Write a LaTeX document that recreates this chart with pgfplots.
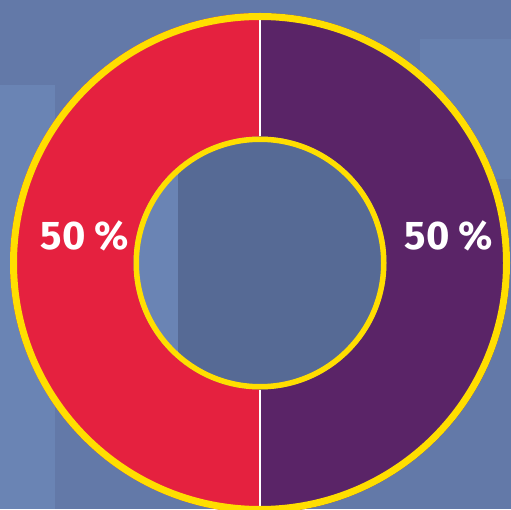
\documentclass[border=0pt]{standalone}
\usepackage{pgfplots}
\pgfplotsset{compat=1.18}
\usepackage{pgfplotstable}
\usepackage{fontspec}
\setmainfont{Fira Sans}

\definecolor{bgblue}{HTML}{6379A8}
\definecolor{bgdark}{HTML}{566A95}
\definecolor{bglight}{HTML}{6A84B4}
\definecolor{donutred}{HTML}{E5213F}
\definecolor{donutpurple}{HTML}{5A2467}
\definecolor{ringyellow}{HTML}{FFDE00}

\newcommand\lblfont{\fontsize{40}{40}\selectfont\bfseries}

% slices, drawn counter-clockwise from 12 o'clock
\pgfplotstableread{
label  value color
A      50    donutred
B      50    donutpurple
}\slices

\begin{document}
\begin{tikzpicture}
\begin{axis}[
    x=1pt, y=1pt,
    xmin=0, xmax=511, ymin=0, ymax=509,
    hide axis,
    clip=true,
]
% blurred photo background (rough)
\fill[bgblue] (axis cs:0,0) rectangle (axis cs:511,509);
\fill[bglight] (axis cs:0,0) rectangle (axis cs:55,424);
\fill[bglight!60!bgblue] (axis cs:420,330) rectangle (axis cs:511,470);
\fill[bgdark] (axis cs:178,100) rectangle (axis cs:395,370);
\fill[bglight] (axis cs:134,100) rectangle (axis cs:178,370);

\def\cx{260}\def\cy{246}
\def\Rout{250}\def\Rin{126.5}
\pgfplotstablegetrowsof{\slices}
\pgfmathtruncatemacro\last{\pgfplotsretval-1}
\def\acc{90}
\pgfplotsforeachungrouped \i in {0,...,\last}{%
    \pgfplotstablegetelem{\i}{value}\of{\slices}\let\val\pgfplotsretval
    \pgfplotstablegetelem{\i}{color}\of{\slices}\let\col\pgfplotsretval
    \pgfmathsetmacro\sA{\acc}
    \pgfmathsetmacro\eA{\acc+3.6*\val}
    \pgfmathsetmacro\mA{(\sA+\eA)/2}
    \pgfmathsetmacro\ox{\cx+\Rout*cos(\sA)}
    \pgfmathsetmacro\oy{\cy+\Rout*sin(\sA)}
    \pgfmathsetmacro\ix{\cx+\Rin*cos(\eA)}
    \pgfmathsetmacro\iy{\cy+\Rin*sin(\eA)}
    \pgfmathsetmacro\lx{\cx+182*cos(\mA)+7}
    \pgfmathsetmacro\ly{\cy+27}
    \edef\temp{%
      \noexpand\fill[\col] (axis cs:\ox,\oy)
        arc[start angle=\sA, end angle=\eA, radius=\Rout pt]
        -- (axis cs:\ix,\iy)
        arc[start angle=\eA, end angle=\sA, radius=\Rin pt] -- cycle;
      \noexpand\node[text=white, font=\noexpand\lblfont]
        at (axis cs:\lx,\ly) {\val\noexpand~\noexpand\%};
    }\temp
    \xdef\acc{\eA}
}
% white separators between slices
\pgfplotsforeachungrouped \a in {90,270}{%
    \pgfmathsetmacro\px{\cx+\Rin*cos(\a)}
    \pgfmathsetmacro\py{\cy+\Rin*sin(\a)}
    \pgfmathsetmacro\qx{\cx+\Rout*cos(\a)}
    \pgfmathsetmacro\qy{\cy+\Rout*sin(\a)}
    \edef\temp{\noexpand\draw[white, line width=1.2pt]
        (axis cs:\px,\py) -- (axis cs:\qx,\qy);}\temp
}
% yellow rims
\draw[ringyellow, line width=7pt] (axis cs:\cx,\cy) circle[radius=246.5pt];
\draw[ringyellow, line width=5.5pt] (axis cs:\cx,\cy) circle[radius=123.75pt];
\end{axis}
\pgfresetboundingbox
\path (current axis.south west) rectangle (current axis.north east);
\end{tikzpicture}
\end{document}
